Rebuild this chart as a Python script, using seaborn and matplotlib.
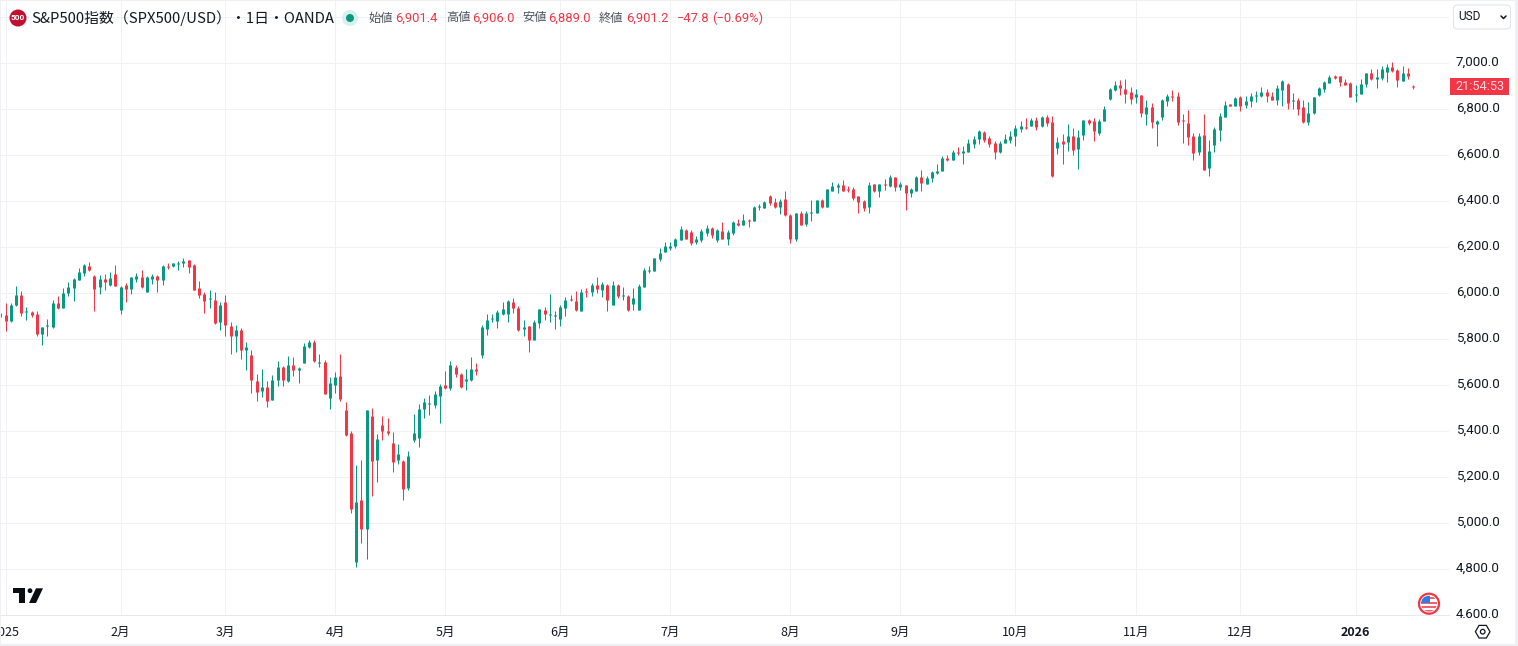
import numpy as np
import pandas as pd
import matplotlib
matplotlib.use("Agg")
import matplotlib.pyplot as plt
import seaborn as sns
from matplotlib.patches import Circle, Rectangle, Polygon, RegularPolygon, FancyBboxPatch
from matplotlib.transforms import ScaledTranslation

# daily OHLC, SPX500/USD
opens = [
    5913,5904,5880,5949,5993,5919,5919,5910,5823,5858,
    5854,5958,5936,6001,6023,6058,6088,6119,6075,6028,
    6062,6036,6084,5928,6036,6019,6062,6071,6006,6062,
    6075,6058,6119,6119,6128,6132,6145,6123,6023,5997,
    5975,5971,5875,5962,5858,5815,5841,5754,5732,5619,
    5575,5593,5536,5623,5680,5619,5688,5667,5697,5767,
    5788,5697,5702,5545,5601,5641,5493,5393,4832,5102,
    4976,5467,5275,5428,5402,5349,5275,5271,5154,5362,
    5371,5497,5519,5515,5554,5601,5588,5680,5649,5619,
    5623,5671,5732,5845,5888,5880,5910,5910,5962,5936,
    5845,5858,5797,5871,5928,5906,5901,5888,5936,5975,
    5967,5923,6010,6006,6036,6015,6036,5949,6036,5988,
    5988,5954,5928,6028,6097,6097,6149,6180,6197,6206,
    6232,6275,6267,6223,6232,6262,6284,6232,6271,6236,
    6262,6306,6297,6320,6315,6375,6371,6423,6397,6375,
    6410,6341,6236,6349,6301,6349,6349,6406,6375,6445,
    6462,6471,6454,6454,6423,6401,6375,6475,6445,6475,
    6467,6506,6462,6471,6436,6445,6506,6475,6501,6523,
    6532,6588,6580,6614,6610,6614,6649,6671,6701,6675,
    6654,6614,6654,6667,6684,6714,6723,6728,6754,6728,
    6767,6745,6632,6662,6658,6684,6628,6688,6754,6749,
    6697,6749,6845,6884,6906,6888,6875,6854,6862,6780,
    6810,6736,6767,6836,6858,6858,6754,6741,6684,6615,
    6688,6545,6645,6710,6767,6823,6814,6854,6819,6836,
    6860,6858,6875,6858,6840,6884,6910,6836,6840,6810,
    6745,6784,6862,6888,6914,6945,6945,6919,6914,6864,
    6867,6910,6958,6932,6936,6962,6984,6971,6923,6958,
    6901.4]
highs = [
    5916,5958,5957,6032,6010,5939,5925,5923,5854,5888,
    5971,5988,6023,6049,6067,6110,6128,6136,6080,6080,
    6084,6093,6123,6032,6045,6071,6088,6101,6075,6084,
    6080,6123,6132,6132,6141,6154,6145,6128,6054,6006,
    6015,6006,5962,5993,5875,5862,5849,5787,5754,5649,
    5671,5619,5645,5706,5684,5728,5723,5680,5783,5797,
    5797,5736,5710,5636,5658,5736,5528,5402,5254,5276,
    5493,5501,5388,5467,5458,5397,5345,5275,5315,5475,
    5519,5545,5558,5575,5606,5662,5706,5688,5654,5671,
    5723,5696,5862,5910,5910,5928,5962,5971,5980,5945,
    5884,5858,5884,5932,5941,5997,5923,5949,5984,5993,
    6010,6019,6023,6045,6071,6049,6041,6054,6041,6028,
    5993,6023,6041,6110,6119,6154,6197,6223,6223,6241,
    6293,6280,6275,6249,6280,6297,6288,6280,6310,6275,
    6315,6323,6345,6323,6380,6388,6401,6428,6414,6410,
    6445,6345,6349,6358,6358,6406,6406,6410,6454,6484,
    6480,6493,6467,6462,6423,6406,6484,6475,6475,6497,
    6514,6506,6484,6471,6458,6510,6536,6510,6532,6562,
    6597,6601,6623,6636,6641,6671,6684,6710,6706,6684,
    6662,6662,6693,6706,6732,6749,6762,6762,6767,6771,
    6775,6771,6680,6693,6736,6719,6710,6754,6758,6762,
    6758,6814,6893,6923,6927,6932,6897,6888,6862,6840,
    6827,6754,6845,6867,6884,6875,6780,6797,6697,6697,
    6780,6667,6723,6784,6836,6823,6854,6858,6858,6871,
    6880,6897,6888,6875,6906,6927,6914,6871,6849,6840,
    6832,6854,6897,6923,6949,6949,6945,6932,6919,6906,
    6932,6958,6975,6975,6988,6997,7006,6975,6988,6980,
    6906.0]
lows = [
    5897,5838,5875,5945,5901,5884,5897,5815,5775,5815,
    5849,5932,5936,5988,5967,6058,6075,6097,5923,5997,
    6015,6032,6032,5910,5962,5997,6049,6023,6006,6041,
    6006,6036,6106,6114,6101,6114,6088,6015,5980,5915,
    5936,5867,5841,5815,5736,5745,5715,5667,5567,5532,
    5549,5506,5536,5597,5597,5615,5641,5610,5697,5762,
    5702,5680,5562,5497,5567,5532,5380,5045,4810,4915,
    4845,5119,5180,5362,5384,5223,5258,5102,5145,5354,
    5332,5458,5471,5501,5436,5584,5580,5636,5588,5580,
    5619,5645,5719,5819,5875,5849,5906,5875,5915,5836,
    5815,5745,5797,5849,5884,5875,5845,5858,5901,5967,
    5923,5923,5984,5988,6001,5984,5923,5949,5980,5971,
    5923,5928,5928,6028,6088,6097,6141,6180,6188,6197,
    6232,6236,6210,6215,6223,6249,6241,6223,6236,6210,
    6254,6293,6297,6288,6315,6362,6371,6384,6371,6345,
    6336,6219,6228,6297,6293,6315,6349,6371,6375,6445,
    6436,6445,6441,6406,6349,6358,6349,6441,6419,6449,
    6462,6445,6449,6362,6419,6445,6445,6475,6484,6519,
    6532,6575,6580,6601,6562,6614,6632,6649,6658,6636,
    6584,6610,6654,6654,6641,6701,6714,6728,6710,6723,
    6728,6506,6606,6562,6619,6601,6541,6667,6732,6662,
    6688,6749,6841,6880,6862,6827,6823,6827,6767,6732,
    6719,6641,6754,6814,6836,6732,6654,6645,6580,6601,
    6536,6510,6615,6662,6767,6814,6814,6793,6806,6810,
    6832,6854,6832,6840,6819,6814,6801,6801,6775,6741,
    6732,6780,6858,6875,6914,6932,6901,6906,6854,6832,
    6867,6897,6928,6894,6928,6919,6962,6897,6923,6932,
    6889.0]
closes = [
    5899,5880,5949,5993,5915,5923,5906,5823,5854,5862,
    5958,5936,6001,6028,6062,6093,6123,6101,6019,6062,
    6049,6067,6032,6028,6019,6071,6075,6028,6071,6075,
    6058,6119,6114,6132,6132,6141,6114,6015,5993,5967,
    5980,5871,5949,5862,5815,5841,5754,5765,5623,5571,
    5593,5532,5623,5680,5623,5688,5667,5675,5771,5788,
    5706,5702,5562,5610,5636,5541,5384,5062,5093,4976,
    5493,5271,5367,5402,5393,5267,5302,5149,5293,5393,
    5497,5528,5523,5562,5597,5588,5688,5649,5593,5628,
    5671,5662,5854,5884,5893,5919,5932,5967,5936,5841,
    5854,5797,5875,5932,5910,5910,5906,5941,5971,5971,
    5928,6006,6006,6036,6019,6041,5971,6036,5988,5993,
    5928,5980,6032,6101,6101,6154,6175,6206,6206,6236,
    6280,6236,6219,6236,6271,6284,6254,6275,6236,6267,
    6310,6297,6319,6316,6375,6380,6397,6393,6375,6401,
    6341,6236,6349,6297,6349,6354,6406,6375,6454,6467,
    6471,6445,6449,6414,6397,6371,6471,6445,6475,6471,
    6506,6462,6475,6436,6454,6506,6480,6501,6527,6532,
    6588,6580,6614,6610,6619,6654,6671,6706,6667,6649,
    6614,6654,6671,6684,6719,6728,6719,6754,6723,6767,
    6741,6510,6658,6649,6684,6623,6680,6754,6741,6706,
    6749,6801,6888,6906,6893,6867,6845,6867,6784,6810,
    6745,6749,6840,6858,6854,6745,6749,6680,6610,6684,
    6536,6619,6714,6771,6819,6814,6849,6814,6836,6858,
    6864,6875,6858,6840,6893,6923,6827,6840,6801,6745,
    6784,6854,6893,6919,6941,6936,6919,6906,6854,6868,
    6910,6958,6932,6939,6975,6984,6967,6928,6958,6945,
    6901.2]

month_bars = [1, 23, 43, 64, 85, 107, 128, 151, 172, 194, 217, 237, 259]
month_labels = ["2025", "2月", "3月", "4月", "5月", "6月", "7月", "8月", "9月", "10月", "11月", "12月", "2026"]
price_ticks = [4600, 4800, 5000, 5200, 5400, 5600, 5800, 6000, 6200, 6400, 6600, 6800, 7000, 7200]
price_labels = ["4,600.0", "4,800.0", "5,000.0", "5,200.0", "5,400.0", "5,600.0", "5,800.0",
                "6,000.0", "6,200.0", "6,400.0", "6,600.0", "6,800.0", "7,000.0", ""]

UP = "#089981"
DOWN = "#F23645"
GRID = "#f0f1f4"
INK = "#131722"
W, H = 1518, 646
PX = 0.72  # one pixel in points at dpi 100

sns.set_theme(style="whitegrid", rc={"grid.color": GRID, "grid.linewidth": PX,
                                     "axes.edgecolor": "#e6e8ed", "axes.linewidth": PX})
plt.rcParams["font.family"] = ["Noto Sans CJK JP", "DejaVu Sans"]

df = pd.DataFrame({"open": opens, "high": highs, "low": lows, "close": closes})
df["bar"] = df.index
df["dir"] = np.where(df["close"] >= df["open"], "up", "down")
pal = {"up": UP, "down": DOWN}

# a flat body still shows as a one pixel dash, like the platform does
mid = (df["open"] + df["close"]) / 2
half = ((df["open"] - df["close"]).abs() / 2).clip(lower=2.2)
df["body_top"] = mid + half
df["body_bottom"] = mid - half

wicks = df.melt(id_vars=["bar", "dir"], value_vars=["high", "low"], value_name="price")
bodies = df.melt(id_vars=["bar", "dir"], value_vars=["body_top", "body_bottom"], value_name="price")

fig = plt.figure(figsize=(W / 100, H / 100), dpi=100, facecolor="white")
ax = fig.add_axes([0, 1 - 615.3 / H, 1449 / W, 614.3 / H])

sns.lineplot(data=wicks, x="bar", y="price", hue="dir", units="bar", estimator=None, palette=pal,
             linewidth=PX, legend=False, sort=False, solid_capstyle="butt", ax=ax)
sns.lineplot(data=bodies, x="bar", y="price", hue="dir", units="bar", estimator=None, palette=pal,
             linewidth=3 * PX, legend=False, sort=False, solid_capstyle="butt", ax=ax)

ax.set_xlim(-0.057, 276.85)
ax.set_ylim(4600, 7270.9)
ax.set_xlabel("")
ax.set_ylabel("")
ax.set_xticks(month_bars, month_labels)
ax.set_yticks(price_ticks, price_labels)
ax.yaxis.tick_right()
ax.tick_params(axis="x", length=0, pad=7.5, labelsize=9, labelcolor=INK)
ax.tick_params(axis="y", length=0, pad=5, labelsize=9.6, labelcolor=INK)
for s in ["top", "left", "right"]:
    ax.spines[s].set_visible(False)
lift = ScaledTranslation(0, 3 / 100, fig.dpi_scale_trans)
for t in ax.get_yticklabels():
    t.set_family(["Roboto", "DejaVu Sans"])
    t.set_transform(t.get_transform() + lift)
for t in ax.get_xticklabels():
    t.set_clip_on(False)
ax.get_xticklabels()[-1].set_fontweight("bold")

# everything around the chart, in pixel coordinates
deco = fig.add_axes([0, 0, 1, 1], zorder=5)
deco.set_xlim(0, W)
deco.set_ylim(H, 0)
deco.axis("off")

# frame strips
deco.add_patch(Rectangle((1449.5, 617.5), 65, 6, fc="white", ec="none"))
for r in [(0, 0, 1.2, H), (1515, 0, 3, H), (0, 644, W, 2), (0, 0, W, 1)]:
    deco.add_patch(Rectangle(r[:2], r[2], r[3], fc="#eef0f3", ec="none"))

# symbol header
deco.add_patch(Circle((18, 18), 8.5, fc="#c2112f", ec="none"))
deco.text(18, 18, "500", color="white", fontsize=6, fontweight="bold", ha="center", va="center",
          family=["Roboto", "DejaVu Sans"])
deco.text(31, 18, "S&P500指数（SPX500/USD）・1日・OANDA", color=INK, fontsize=10.7, va="center")
deco.add_patch(Circle((350, 18), 8, fc="#d8f0ec", ec="none"))
deco.add_patch(Circle((350, 18), 4, fc=UP, ec="none"))

label_bits = [(368, "始値"), (446, "高値"), (522, "安値"), (599, "終値")]
value_bits = [(395, "6,901.4"), (472, "6,906.0"), (548, "6,889.0"), (626, "6,901.2"),
              (677, "−47.8"), (712, "(−0.69%)")]
for xp, s in label_bits:
    deco.text(xp, 18, s, color="#50535e", fontsize=8.8, va="center")
for xp, s in value_bits:
    deco.text(xp, 18, s, color=DOWN, fontsize=9.4, va="center", family=["Roboto", "DejaVu Sans"])

# currency box
deco.add_patch(FancyBboxPatch((1457, 8.5), 50, 17, boxstyle="round,pad=3.5,rounding_size=4",
                              fc="white", ec="#e0e3eb", lw=PX))
deco.text(1458, 17, "USD", color=INK, fontsize=8.6, va="center", family=["Roboto", "DejaVu Sans"])
deco.plot([1501, 1503.5, 1506], [16, 18.5, 16], color=INK, lw=1.1)

# countdown tag
deco.add_patch(Rectangle((1450, 78.3), 59.3, 16.4, fc=DOWN, ec="none"))
deco.text(1480.5, 86.6, "21:54:53", color="#fcd6da", fontsize=9.2, ha="center", va="center",
          family=["Roboto", "DejaVu Sans"])

# TradingView mark
deco.add_patch(Polygon([(13, 588.3), (24.7, 588.3), (24.7, 603), (19.3, 603), (19.3, 593.3), (13, 593.3)],
                       fc="#0b0d12", ec="none"))
deco.add_patch(Circle((30, 590.7), 2.4, fc="#0b0d12", ec="none"))
deco.add_patch(Polygon([(36, 588.3), (43, 588.3), (36, 603), (29, 603)], fc="#0b0d12", ec="none"))

# flag badge
deco.add_patch(Circle((1429, 603.7), 10, fc="white", ec=DOWN, lw=1.6))
clip = Circle((1429, 603.7), 8, transform=deco.transData)
for yp in [597, 601.5, 606, 610]:
    p = deco.add_patch(Rectangle((1419, yp), 20, 2.3, fc="#f0636e", ec="none"))
    p.set_clip_path(clip)
p = deco.add_patch(Rectangle((1419, 595), 10.5, 8, fc="#2f7be8", ec="none"))
p.set_clip_path(clip)

# settings hexagon
deco.add_patch(RegularPolygon((1482.7, 631.7), 6, radius=7.3, orientation=np.pi / 6, fc="white", ec=INK, lw=0.9))
deco.add_patch(Circle((1482.7, 631.7), 2.3, fc="white", ec=INK, lw=0.9))

fig.savefig("out.png", dpi=100)
